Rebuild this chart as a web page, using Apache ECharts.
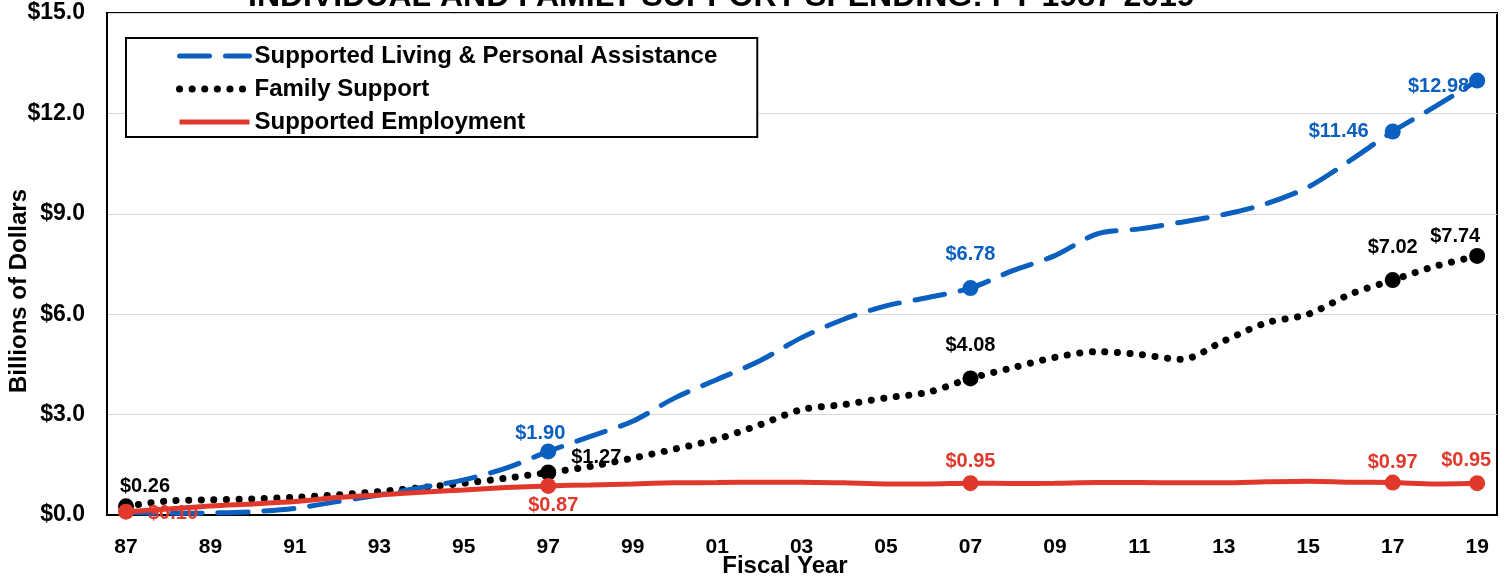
<!DOCTYPE html>
<html>
<head>
<meta charset="utf-8">
<script src="https://cdn.jsdelivr.net/npm/echarts@6/dist/echarts.min.js"></script>
<style>
  html, body { margin: 0; padding: 0; background: #fff; }
  #chart { width: 1509px; height: 577px; }
</style>
</head>
<body>
<div id="chart"></div>
<script>
const years = ['87', '88', '89', '90', '91', '92', '93', '94', '95', '96', '97', '98', '99', '00', '01', '02',
    '03', '04', '05', '06', '07', '08', '09', '10', '11', '12', '13', '14', '15', '16', '17', '18', '19'];
const tickLabels = ['87', '89', '91', '93', '95', '97', '99', '01', '03', '05', '07', '09', '11', '13', '15', '17', '19'];
const yTicks = [0, 3, 6, 9, 12, 15];

// billions of dollars
const livingValues = [0.08, 0.05, 0.06, 0.1, 0.2, 0.4, 0.6, 0.82, 1.05, 1.4, 1.9, 2.35, 2.8, 3.5, 4.05, 4.6,
    5.3, 5.85, 6.25, 6.5, 6.78, 7.3, 7.75, 8.4, 8.55, 8.75, 8.98, 9.3, 9.8, 10.6, 11.46, 12.2, 12.98];
const familyValues = [0.26, 0.42, 0.45, 0.48, 0.53, 0.6, 0.7, 0.82, 0.95, 1.1, 1.27, 1.45, 1.7, 1.97, 2.27, 2.69,
    3.15, 3.3, 3.5, 3.67, 4.08, 4.4, 4.71, 4.88, 4.8, 4.65, 5.2, 5.74, 6.0, 6.6, 7.02, 7.43, 7.74];
const employmentValues = [0.1, 0.18, 0.27, 0.33, 0.4, 0.52, 0.6, 0.68, 0.75, 0.82, 0.87, 0.9, 0.93, 0.96, 0.97, 0.98,
    0.98, 0.96, 0.93, 0.93, 0.95, 0.94, 0.95, 0.97, 0.97, 0.96, 0.96, 0.99, 1.01, 0.98, 0.97, 0.93, 0.95];

const livingLabeled = [10, 20, 30, 32];
const familyLabeled = [0, 10, 20, 30, 32];
const employmentLabeled = [0, 10, 20, 30, 32];

const BLUE = '#0a5fbf';
const RED = '#e0392b';
const FONT = '"Liberation Sans", Arial, sans-serif';

const livingLine = { color: BLUE, width: 5, type: [30, 16], cap: 'round' };
const familyLine = { color: '#000', width: 7, type: [0.1, 12.5], cap: 'round' };
const employmentLine = { color: RED, width: 5 };

// where each value label sits relative to its marker
const livingPlace = {
    10: { position: 'top', distance: 0, offset: [-8, 0] },
    20: { position: 'top', distance: 16 },
    30: { position: 'left', distance: 16 },
    32: { position: 'left', distance: 0, offset: [0, 6] }
};
const familyPlace = {
    0: { position: 'top', distance: 2, offset: [19, 0] },
    10: { position: 'right', distance: 15, offset: [0, -15] },
    20: { position: 'top', distance: 15 },
    30: { position: 'top', distance: 15 },
    32: { position: 'top', distance: 1, offset: [-22, 0] }
};
const employmentPlace = {
    0: { position: 'right', distance: 14, offset: [0, 2] },
    10: { position: 'bottom', distance: 2, offset: [5, 0] },
    20: { position: 'top', distance: 4 },
    30: { position: 'top', distance: 2 },
    32: { position: 'top', distance: 5, offset: [-11, 0] }
};

function buildData(values, labeled, place, color) {
    return values.map((v, i) => {
        if (labeled.indexOf(i) < 0) {
            return { value: [i, v], symbol: 'none' };
        }
        return {
            value: [i, v],
            symbol: 'circle',
            symbolSize: 16,
            itemStyle: { color: color },
            label: Object.assign({
                show: true,
                formatter: '$' + v.toFixed(2),
                color: color,
                fontFamily: FONT,
                fontWeight: 'bold',
                fontSize: 20
            }, place[i])
        };
    });
}

const chart = echarts.init(document.getElementById('chart'));

chart.setOption({
    animation: false,
    backgroundColor: '#fff',
    title: {
        text: 'INDIVIDUAL AND FAMILY SUPPORT SPENDING: FY 1987-2019',
        left: 243,
        top: -24,
        textStyle: { fontFamily: FONT, fontWeight: 'bold', fontSize: 32, color: '#000' }
    },
    grid: {
        left: 107,
        right: 12,
        top: 13,
        bottom: 62,
        containLabel: false,
        outerBoundsMode: 'none',
        show: true,
        borderColor: '#000',
        borderWidth: 2,
        backgroundColor: 'transparent'
    },
    legend: {
        orient: 'vertical',
        left: 126,
        top: 38,
        padding: [5, 40, 2, 50],
        itemGap: 7,
        itemWidth: 70,
        itemHeight: 14,
        borderColor: '#000',
        borderWidth: 2,
        backgroundColor: '#fff',
        itemStyle: { opacity: 0 },
        textStyle: { fontFamily: FONT, fontWeight: 'bold', fontSize: 24, color: '#000', lineHeight: 26 },
        data: [
            { name: 'Supported Living & Personal Assistance', lineStyle: livingLine },
            { name: 'Family Support', lineStyle: familyLine },
            { name: 'Supported Employment', lineStyle: employmentLine }
        ]
    },
    xAxis: {
        type: 'value',
        min: -0.45,
        max: 32.47,
        name: 'Fiscal Year',
        nameLocation: 'middle',
        nameGap: 39,
        nameMoveOverlap: false,
        nameTextStyle: { fontFamily: FONT, fontWeight: 'bold', fontSize: 24, color: '#000', padding: [0, 34, 0, 0] },
        axisLine: { show: true, onZero: false, lineStyle: { color: '#000', width: 2 } },
        axisTick: { show: false },
        splitLine: { show: false },
        axisLabel: {
            customValues: tickLabels.map(t => years.indexOf(t)),
            formatter: v => years[Math.round(v)],
            margin: 22,
            fontFamily: FONT,
            fontWeight: 'bold',
            fontSize: 21,
            color: '#000'
        }
    },
    yAxis: {
        type: 'value',
        min: yTicks[0],
        max: yTicks[yTicks.length - 1],
        interval: yTicks[1] - yTicks[0],
        name: 'Billions of Dollars',
        nameLocation: 'middle',
        nameRotate: 90,
        nameGap: 76,
        nameMoveOverlap: false,
        nameTextStyle: { fontFamily: FONT, fontWeight: 'bold', fontSize: 24, color: '#000', padding: [0, 54, 0, 0] },
        axisLine: { show: true, onZero: false, lineStyle: { color: '#000', width: 2 } },
        axisTick: { show: false },
        splitLine: { show: true, lineStyle: { color: '#d9d9d9', width: 1 } },
        axisLabel: {
            formatter: v => '$' + v.toFixed(1),
            margin: 22,
            fontFamily: FONT,
            fontWeight: 'bold',
            fontSize: 23,
            color: '#000'
        }
    },
    series: [
        {
            name: 'Supported Living & Personal Assistance',
            type: 'line',
            smooth: 0.3,
            symbol: 'none',
            color: BLUE,
            lineStyle: livingLine,
            data: buildData(livingValues, livingLabeled, livingPlace, BLUE),
            z: 4
        },
        {
            name: 'Family Support',
            type: 'line',
            smooth: 0.3,
            symbol: 'none',
            color: '#000',
            lineStyle: familyLine,
            data: buildData(familyValues, familyLabeled, familyPlace, '#000'),
            z: 3
        },
        {
            name: 'Supported Employment',
            type: 'line',
            smooth: 0.3,
            symbol: 'none',
            color: RED,
            lineStyle: employmentLine,
            data: buildData(employmentValues, employmentLabeled, employmentPlace, RED),
            z: 10
        }
    ]
});
</script>
</body>
</html>
